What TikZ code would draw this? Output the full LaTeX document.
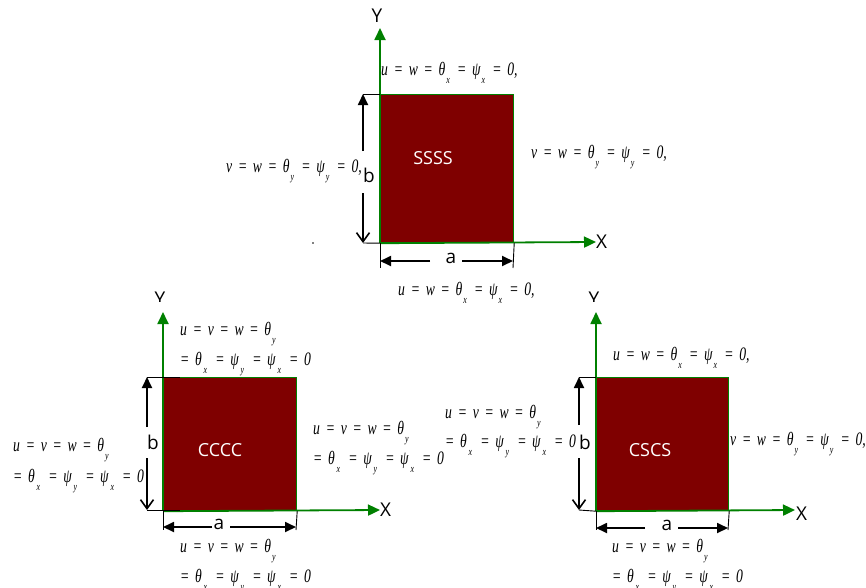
\documentclass[tikz,border=0pt]{standalone}
\usepackage{fontspec}
\setmainfont{Liberation Serif}
\newfontfamily\osans{Open Sans}
\usetikzlibrary{arrows.meta}
\newcommand{\dn}[1]{\hspace{1.5pt}\raisebox{-8.5pt}{\fontsize{11}{11}\selectfont #1}\hspace{2pt}}
\newcommand{\dnw}[1]{\hspace{2.5pt}\raisebox{-8.5pt}{\fontsize{11}{11}\selectfont #1}\hspace{11.3pt}}
\newcommand{\eqq}{\hspace{0.42em}=\hspace{0.42em}}
\newcommand{\bc}[1]{\scalebox{0.72}[1]{\fontsize{19}{19}\selectfont\itshape #1}}
\definecolor{plateRed}{RGB}{127,0,0}
\definecolor{axGreen}{RGB}{0,128,0}
\begin{document}
\begin{tikzpicture}[x=1pt,y=-1pt,
  plate/.style={draw=axGreen,line width=1.2pt,fill=plateRed,inner sep=0,anchor=north west},
  ptxt/.style={text=white,font=\osans\fontsize{18}{18}\selectfont,inner sep=0},
  axis/.style={draw=axGreen,line width=1.8pt,-{Triangle[length=12pt,width=11pt]}},
  axlab/.style={font=\osans\fontsize{19}{19}\selectfont,inner sep=0},
  dimlab/.style={font=\osans\fontsize{19}{19}\selectfont,inner sep=0},
  dimF/.style={line width=1.8pt,-{Triangle[length=11pt,width=10pt]}},
  dimO/.style={line width=1.8pt,-{Straight Barb[length=9pt,width=13pt,line width=1.6pt]}},
  tick/.style={line width=0.9pt},
  lab/.style={anchor=base west,inner sep=0}]
\useasboundingbox (0,0) rectangle (866,587);

% ---------------- top plate SSSS ----------------
\node[plate,minimum width=133pt,minimum height=148pt] (P1) at (380,94) {};
\node[ptxt] (T1) at (433,158) {SSSS};
\node[axlab] (Y1) at (377,16) {Y};
\node[axlab,anchor=west] (X1) at (596,242) {X};
\coordinate (Y1t) at (380,28);
\draw[axis] (P1.south west) -- (Y1t);
\draw[axis] (P1.south west) -- (X1.west);
% b dimension
\coordinate (b1t) at (363,94);
\coordinate (b1b) at (363,243);
\coordinate (b1g1) at (363,151);
\coordinate (b1g2) at (363,193);
\draw[tick] (b1t) -- (P1.north west);
\draw[tick] (b1b) -- (P1.south west);
\draw[dimF] (b1g1) -- (b1t);
\draw[dimO] (b1g2) -- (b1b);
\node[dimlab] (B1) at (369,175) {b};
% a dimension
\coordinate (a1l) at (380,261);
\coordinate (a1r) at (513,261);
\draw[tick] (P1.south west) -- (380,268);
\draw[tick] (P1.south east) -- (513,268);
\node[dimlab] (A1) at (451,258) {a};
\draw[dimF] (430,261) -- (a1l);
\draw[dimF] (462,261) -- (a1r);
\fill (313,243) circle (0.8pt);
% labels
\node[lab] (L1t) at (381,75) {\bc{u\eqq w\eqq θ\dn{x}\eqq ψ\dn{x}\eqq 0,}};
\node[lab] (L1l) at (226,172) {\bc{v\eqq w\eqq θ\dn{y}\eqq ψ\dn{y}\eqq 0,}};
\node[lab] (L1r) at (531,158) {\bc{v\eqq w\eqq θ\dn{y}\eqq ψ\dn{y}\eqq 0,}};
\node[lab] (L1b) at (398,295) {\bc{u\eqq w\eqq θ\dn{x}\eqq ψ\dn{x}\eqq 0,}};

% ---------------- left plate CCCC ----------------
\node[plate,minimum width=133pt,minimum height=133pt] (P2) at (163,377) {};
\node[ptxt] (T2) at (220,450) {CCCC};
\begin{scope}
\clip (140,280) rectangle (180,301);
\node[axlab] (Y2) at (160,299) {Y};
\end{scope}
\node[axlab,anchor=west] (X2) at (380,510) {X};
\coordinate (Y2t) at (163,312);
\draw[axis] (P2.south west) -- (Y2t);
\draw[axis] (P2.south west) -- (X2.west);
\coordinate (b2t) at (147,377);
\coordinate (b2b) at (147,510);
\draw[tick] (b2t) -- (180,377);
\draw[tick] (b2b) -- (180,510);
\draw[dimF] (147,427) -- (b2t);
\draw[dimO] (147,458) -- (b2b);
\node[dimlab] (B2) at (153,442) {b};
\draw[tick] (P2.south west) -- (163,530);
\draw[tick] (P2.south east) -- (296,530);
\node[dimlab] (A2) at (219,524) {a};
\draw[dimF] (212,527) -- (163,527);
\draw[dimF] (230,527) -- (296,527);
\node[lab] (L2t1) at (180,335) {\bc{u\eqq v\eqq w\eqq θ\dn{y}}};
\node[lab] (L2t2) at (180,365) {\bc{=\hspace{0.42em}θ\dnw{x}=\hspace{0.42em}ψ\dnw{y}=\hspace{0.42em}ψ\dnw{x}=\hspace{0.42em}0}};
\node[lab] (L2l1) at (13,451) {\bc{u\eqq v\eqq w\eqq θ\dn{y}}};
\node[lab] (L2l2) at (13,482) {\bc{=\hspace{0.42em}θ\dnw{x}=\hspace{0.42em}ψ\dnw{y}=\hspace{0.42em}ψ\dnw{x}=\hspace{0.42em}0}};
\node[lab] (L2r1) at (313,434) {\bc{u\eqq v\eqq w\eqq θ\dn{y}}};
\node[lab] (L2r2) at (313,464) {\bc{=\hspace{0.42em}θ\dnw{x}=\hspace{0.42em}ψ\dnw{y}=\hspace{0.42em}ψ\dnw{x}=\hspace{0.42em}0}};
\node[lab] (L2b1) at (180,552) {\bc{u\eqq v\eqq w\eqq θ\dn{y}}};
\node[lab] (L2b2) at (180,582) {\bc{=\hspace{0.42em}θ\dnw{x}=\hspace{0.42em}ψ\dnw{y}=\hspace{0.42em}ψ\dnw{x}=\hspace{0.42em}0}};

% ---------------- right plate CSCS ----------------
\node[plate,minimum width=132pt,minimum height=133pt] (P3) at (596,377) {};
\node[ptxt] (T3) at (650,450) {CSCS};
\begin{scope}
\clip (575,280) rectangle (615,301);
\node[axlab] (Y3) at (594,299) {Y};
\end{scope}
\node[axlab,anchor=west] (X3) at (796,514) {X};
\coordinate (Y3t) at (596,312);
\draw[axis] (P3.south west) -- (Y3t);
\draw[axis] (P3.south west) -- (795,510);
\coordinate (b3t) at (579,377);
\coordinate (b3b) at (579,510);
\draw[tick] (b3t) -- (P3.north west);
\draw[tick] (b3b) -- (P3.south west);
\draw[dimF] (579,425) -- (b3t);
\draw[dimO] (579,458) -- (b3b);
\node[dimlab] (B3) at (585,442) {b};
\draw[tick] (P3.south west) -- (596,530);
\draw[tick] (P3.south east) -- (728,530);
\node[dimlab] (A3) at (667,525) {a};
\draw[dimF] (645,528) -- (596,528);
\draw[dimF] (678,528) -- (728,528);
\node[lab] (L3t) at (613,360) {\bc{u\eqq w\eqq θ\dn{x}\eqq ψ\dn{x}\eqq 0,}};
\node[lab] (L3l1) at (445,418) {\bc{u\eqq v\eqq w\eqq θ\dn{y}}};
\node[lab] (L3l2) at (445,447) {\bc{=\hspace{0.42em}θ\dnw{x}=\hspace{0.42em}ψ\dnw{y}=\hspace{0.42em}ψ\dnw{x}=\hspace{0.42em}0}};
\node[lab] (L3r) at (730,445) {\bc{v\eqq w\eqq θ\dn{y}\eqq ψ\dn{y}\eqq 0,}};
\node[lab] (L3b1) at (612,552) {\bc{u\eqq v\eqq w\eqq θ\dn{y}}};
\node[lab] (L3b2) at (612,582) {\bc{=\hspace{0.42em}θ\dnw{x}=\hspace{0.42em}ψ\dnw{y}=\hspace{0.42em}ψ\dnw{x}=\hspace{0.42em}0}};
\end{tikzpicture}
\end{document}
